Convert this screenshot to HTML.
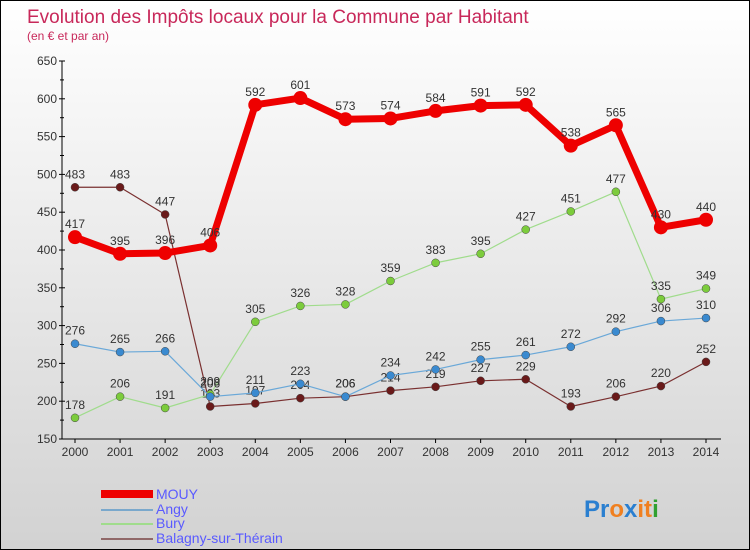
<!DOCTYPE html>
<html><head><meta charset="utf-8">
<style>
html,body{margin:0;padding:0;}
body{width:750px;height:550px;overflow:hidden;font-family:"Liberation Sans",sans-serif;}
#wrap{position:relative;width:748px;height:548px;border:1px solid #000;background:linear-gradient(#ffffff,#d2d2d2);}
svg{position:absolute;left:0;top:0;}
</style></head>
<body>
<div id="wrap">
<svg id="chart" width="748" height="548">
<text x="26" y="22" font-size="19" fill="#c8285a">Evolution des Impôts locaux pour la Commune par Habitant</text>
<text x="26" y="39" font-size="12" fill="#c8285a">(en € et par an)</text>
<g>
<rect x="100" y="489" width="52" height="8" fill="#ee0000"/>
<text x="155" y="498" font-size="14" fill="#5a5aff">MOUY</text>
<rect x="100" y="508" width="52" height="2" fill="#7aa8cc"/>
<text x="155" y="513" font-size="14" fill="#5a5aff">Angy</text>
<rect x="100" y="522" width="52" height="2" fill="#a0dc8c"/>
<text x="155" y="527" font-size="14" fill="#5a5aff">Bury</text>
<rect x="100" y="537" width="52" height="2" fill="#906868"/>
<text x="155" y="542" font-size="14" fill="#5a5aff">Balagny-sur-Thérain</text>
</g>
<text x="583" y="516" font-size="24" font-weight="bold"><tspan fill="#2a7fd0">Pr</tspan><tspan fill="#f08020">o</tspan><tspan fill="#2a7fd0">x</tspan><tspan fill="#f08020">it</tspan><tspan fill="#30a030">i</tspan></text>
</svg>
</div>
<script>
const years=[2000,2001,2002,2003,2004,2005,2006,2007,2008,2009,2010,2011,2012,2013,2014];
const yTicks=[150,200,250,300,350,400,450,500,550,600,650];
const mouy=[417,395,396,406,592,601,573,574,584,591,592,538,565,430,440];
const angy=[276,265,266,206,211,223,206,234,242,255,261,272,292,306,310];
const bury=[178,206,191,209,305,326,328,359,383,395,427,451,477,335,349];
const balagny=[483,483,447,193,197,204,206,214,219,227,229,193,206,220,252];
const NS="http://www.w3.org/2000/svg";
const svg=document.getElementById('chart');
const x0=74,x1=705,yBase=438,yTop=60,vMin=150,vMax=650;
function xs(i){return x0+(x1-x0)*i/(years.length-1);}
function ys(v){return yBase-(v-vMin)*(yBase-yTop)/(vMax-vMin);}
function mk(tag,attrs){const e=document.createElementNS(NS,tag);for(const k in attrs)e.setAttribute(k,attrs[k]);svg.appendChild(e);return e;}
// axes
let a=mk('line',{x1:61,y1:yTop,x2:61,y2:yBase,stroke:'#000'});


a=mk('line',{x1:61,y1:yBase,x2:720,y2:yBase,stroke:'#000'});


yTicks.forEach(v=>{
  const t=mk('text',{x:56,y:ys(v)+4,'font-size':12,fill:'#333','text-anchor':'end'});
  t.textContent=v;
  
  
  const l=mk('line',{x1:58,y1:ys(v),x2:64,y2:ys(v),stroke:'#000'});
  
  
  if(v<650){const m=mk('line',{x1:59,y1:ys(v+25),x2:63,y2:ys(v+25),stroke:'#000'});
  
  }
});
years.forEach((y,i)=>{
  const t=mk('text',{x:xs(i),y:yBase+17,'font-size':12,fill:'#333','text-anchor':'middle'});
  t.textContent=y;
  
  
  const l=mk('line',{x1:xs(i),y1:yBase,x2:xs(i),y2:yBase+4,stroke:'#000'});
  
  
});
function series(data,name,color,width,r,dot){
  const p=mk('polyline',{points:data.map((v,i)=>xs(i)+','+ys(v)).join(' '),fill:'none',stroke:color,'stroke-width':width,'stroke-linejoin':'round'});
  
  
  data.forEach((v,i)=>{
    const c=mk('circle',{cx:xs(i),cy:ys(v),r:r,fill:dot,stroke:color==='#ee0000'?'none':'#444','stroke-width':0.5});
    
    
    const t=mk('text',{x:xs(i),y:ys(v)-9,'font-size':12,fill:'#333','text-anchor':'middle'});
    t.textContent=v;
    
    
  });
}
series(balagny,'balagny','#7a3030',1.2,4,'#6a1a1a');
series(bury,'bury','#a0dc8c',1.2,4,'#7ccc3c');
series(angy,'angy','#6aa8d8',1.2,4,'#3a8ad0');
series(mouy,'mouy','#ee0000',7,7,'#ee0000');
</script>
</body></html>
